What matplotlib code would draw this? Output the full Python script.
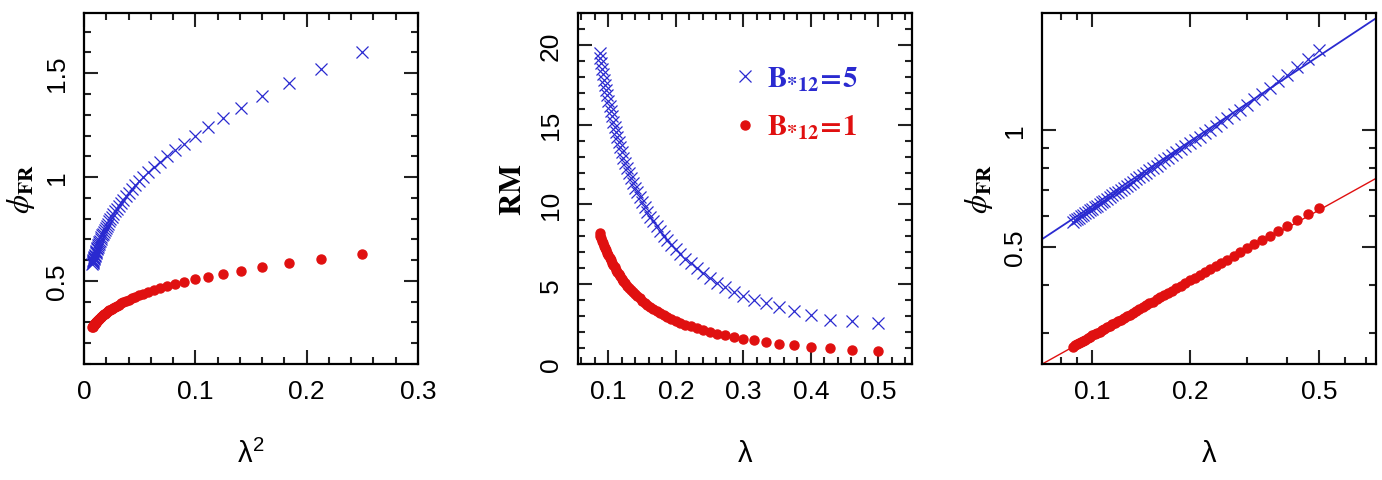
import matplotlib
matplotlib.use("Agg")
import matplotlib.pyplot as plt
import numpy as np
from matplotlib.ticker import FixedLocator, MultipleLocator, NullFormatter, FixedFormatter

plt.rcParams['font.family'] = ['Liberation Sans', 'DejaVu Sans']
plt.rcParams['mathtext.fontset'] = 'stix'

# wavelengths (m), one point per 50 MHz channel
lam = [0.5, 0.4615, 0.4286, 0.4, 0.375, 0.3529, 0.3333, 0.3158, 0.3, 0.2857,
       0.2727, 0.2609, 0.25, 0.24, 0.2308, 0.2222, 0.2143, 0.2069, 0.2, 0.1935,
       0.1875, 0.1818, 0.1765, 0.1714, 0.1667, 0.1622, 0.1579, 0.1538, 0.15, 0.1463,
       0.1429, 0.1395, 0.1364, 0.1333, 0.1304, 0.1277, 0.125, 0.1224, 0.12, 0.1176,
       0.1154, 0.1132, 0.1111, 0.1091, 0.1071, 0.1053, 0.1034, 0.1017, 0.1, 0.0984,
       0.0968, 0.0952, 0.0938, 0.0923, 0.0909, 0.0896, 0.0882, 0.087]

# B*12 = 5
phi_b5 = [1.604, 1.522, 1.451, 1.388, 1.335, 1.286, 1.241, 1.199, 1.160, 1.129,
          1.100, 1.073, 1.048, 1.024, 1.002, 0.981, 0.961, 0.942, 0.924, 0.908,
          0.892, 0.876, 0.862, 0.848, 0.835, 0.822, 0.810, 0.798, 0.787, 0.776,
          0.766, 0.756, 0.746, 0.737, 0.728, 0.719, 0.711, 0.702, 0.694, 0.687,
          0.679, 0.672, 0.665, 0.658, 0.652, 0.645, 0.639, 0.633, 0.627, 0.621,
          0.616, 0.610, 0.605, 0.600, 0.594, 0.590, 0.585, 0.580]
rm_b5 = [2.6, 2.7, 2.75, 3.1, 3.33, 3.55, 3.8, 4.0, 4.25, 4.5,
         4.8, 5.1, 5.4, 5.7, 6.0, 6.33, 6.61, 6.89, 7.18, 7.47,
         7.76, 8.05, 8.35, 8.64, 8.94, 9.24, 9.54, 9.84, 10.14, 10.45,
         10.75, 11.06, 11.37, 11.68, 12.0, 12.31, 12.62, 12.94, 13.26, 13.58,
         13.9, 14.22, 14.54, 14.87, 15.19, 15.52, 15.84, 16.17, 16.5, 16.83,
         17.16, 17.5, 17.83, 18.16, 18.5, 18.84, 19.17, 19.5]

# B*12 = 1
phi_b1 = [0.630, 0.607, 0.586, 0.567, 0.550, 0.535, 0.521, 0.508, 0.496, 0.484,
          0.474, 0.464, 0.455, 0.446, 0.438, 0.430, 0.423, 0.416, 0.410, 0.403,
          0.397, 0.392, 0.386, 0.381, 0.376, 0.371, 0.367, 0.362, 0.358, 0.354,
          0.350, 0.346, 0.342, 0.339, 0.335, 0.332, 0.328, 0.325, 0.322, 0.319,
          0.316, 0.314, 0.311, 0.308, 0.306, 0.303, 0.301, 0.298, 0.296, 0.294,
          0.291, 0.289, 0.287, 0.285, 0.283, 0.281, 0.279, 0.277]
rm_b1 = [0.80, 0.89, 0.98, 1.08, 1.18, 1.27, 1.37, 1.48, 1.58, 1.69,
         1.79, 1.90, 2.01, 2.13, 2.24, 2.36, 2.47, 2.59, 2.71, 2.83,
         2.95, 3.08, 3.20, 3.33, 3.45, 3.58, 3.71, 3.84, 3.97, 4.11,
         4.24, 4.37, 4.51, 4.65, 4.79, 4.92, 5.06, 5.21, 5.35, 5.49,
         5.63, 5.78, 5.92, 6.07, 6.22, 6.36, 6.51, 6.66, 6.81, 6.96,
         7.12, 7.27, 7.42, 7.58, 7.74, 7.89, 8.05, 8.20]

# power-law fits phi = amp * (lam/0.5)**slope
fit_b5 = (1.55, 0.552)
fit_b1 = (0.622, 0.464)

blue = '#2a2ad0'
red = '#e01010'

lam = np.array(lam)
lam2 = lam ** 2

fig = plt.figure(figsize=(13.82, 4.81), dpi=100)
W = 334 / 1382
H = 351 / 481
B = 116 / 481
ax1 = fig.add_axes([84 / 1382, B, W, H])
ax2 = fig.add_axes([578 / 1382, B, W, H])
ax3 = fig.add_axes([1042 / 1382, B, W, H])

xkw = dict(marker='x', ls='none', color=blue, ms=8, mew=0.9)
okw = dict(marker='o', ls='none', color=red, ms=6.5, mec=red)

for ax in (ax1, ax2, ax3):
    for s in ax.spines.values():
        s.set_linewidth(1.6)
    ax.tick_params(which='both', direction='in', top=True, right=True,
                   width=1.5, labelsize=19, color='#222222')
    ax.tick_params(which='major', length=10, pad=11)
    ax.tick_params(which='minor', length=5)
    ax.tick_params(axis='y', labelrotation=90)

# panel 1: phi vs lambda^2
ax1.plot(lam2, phi_b5, **xkw)
ax1.plot(lam2, phi_b1, **okw)
ax1.set_xlim(0, 0.3)
ax1.set_ylim(0.1, 1.79)
ax1.xaxis.set_major_locator(FixedLocator([0, 0.1, 0.2, 0.3]))
ax1.xaxis.set_major_formatter(FixedFormatter(['0', '0.1', '0.2', '0.3']))
ax1.xaxis.set_minor_locator(MultipleLocator(0.02))
ax1.yaxis.set_major_locator(FixedLocator([0.5, 1, 1.5]))
ax1.yaxis.set_major_formatter(FixedFormatter(['0.5', '1', '1.5']))
ax1.yaxis.set_minor_locator(MultipleLocator(0.1))
ax1.set_xlabel(r'λ$^{\mathregular{2}}$', fontsize=21)
ax1.set_ylabel(r'$\phi_{\mathbf{FR}}$', fontsize=22)

# panel 2: RM vs lambda
ax2.plot(lam, rm_b5, label=r'$\mathbf{B_{*12}\!=\!5}$', **xkw)
ax2.plot(lam, rm_b1, label=r'$\mathbf{B_{*12}\!=\!1}$', **okw)
ax2.set_xlim(0.055, 0.55)
ax2.set_ylim(0, 22)
ax2.xaxis.set_major_locator(FixedLocator([0.1, 0.2, 0.3, 0.4, 0.5]))
ax2.xaxis.set_major_formatter(FixedFormatter(['0.1', '0.2', '0.3', '0.4', '0.5']))
ax2.xaxis.set_minor_locator(MultipleLocator(0.02))
ax2.yaxis.set_major_locator(FixedLocator([0, 5, 10, 15, 20]))
ax2.yaxis.set_major_formatter(FixedFormatter(['0', '5', '10', '15', '20']))
ax2.yaxis.set_minor_locator(MultipleLocator(1))
ax2.set_xlabel('λ', fontsize=21)
ax2.set_ylabel(r'$\mathbf{RM}$', fontsize=22)
leg = ax2.legend(loc='upper left', bbox_to_anchor=(0.435, 0.895), frameon=False,
                 fontsize=21, handlelength=0.5, handletextpad=0.5,
                 labelspacing=0.7, borderpad=0)
for txt, c in zip(leg.get_texts(), (blue, red)):
    txt.set_color(c)

# panel 3: log-log phi vs lambda with fits
xfit = np.array([0.07, 0.75])
ax3.plot(lam, phi_b5, **xkw)
ax3.plot(lam, phi_b1, **okw)
ax3.plot(xfit, fit_b5[0] * (xfit / 0.5) ** fit_b5[1], color=blue, lw=1.3)
ax3.plot(xfit, fit_b1[0] * (xfit / 0.5) ** fit_b1[1], color=red, lw=1.0)
ax3.set_xscale('log')
ax3.set_yscale('log')
ax3.set_xlim(0.07, 0.75)
ax3.set_ylim(0.25, 2.0)
ax3.xaxis.set_major_locator(FixedLocator([0.1, 0.2, 0.5]))
ax3.xaxis.set_major_formatter(FixedFormatter(['0.1', '0.2', '0.5']))
ax3.xaxis.set_minor_locator(FixedLocator([0.08, 0.09, 0.3, 0.4, 0.6, 0.7]))
ax3.xaxis.set_minor_formatter(NullFormatter())
ax3.yaxis.set_major_locator(FixedLocator([0.5, 1]))
ax3.yaxis.set_major_formatter(FixedFormatter(['0.5', '1']))
ax3.yaxis.set_minor_locator(FixedLocator([0.3, 0.4, 0.6, 0.7, 0.8, 0.9]))
ax3.yaxis.set_minor_formatter(NullFormatter())
ax3.set_xlabel('λ', fontsize=21)
ax3.set_ylabel(r'$\phi_{\mathbf{FR}}$', fontsize=22)

for ax in (ax1, ax2, ax3):
    for lab in ax.get_yticklabels():
        lab.set_va('center')
    ax.xaxis.set_label_coords(0.5, -0.215)
ax1.yaxis.set_label_coords(-0.14, 0.5)
ax2.yaxis.set_label_coords(-0.15, 0.5)
ax3.yaxis.set_label_coords(-0.14, 0.5)

fig.savefig('out.png', dpi=100)
